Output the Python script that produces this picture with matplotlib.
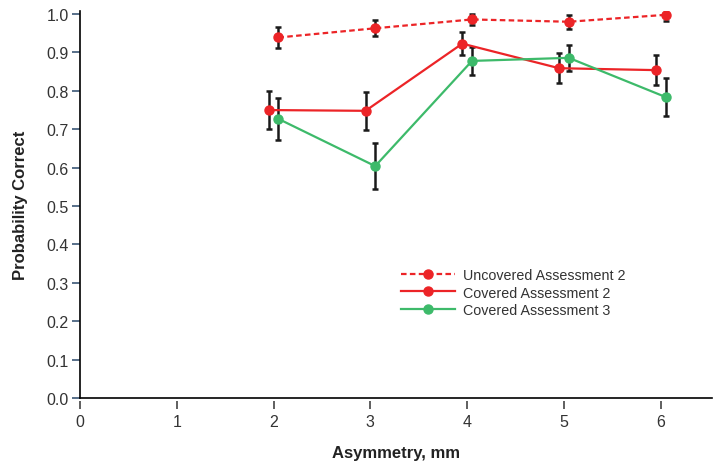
import matplotlib.pyplot as plt
from matplotlib.lines import Line2D

plt.rcParams['font.family'] = ['Liberation Sans', 'DejaVu Sans']

asym = [2, 3, 4, 5, 6]

uncovered_2 = [0.939, 0.963, 0.986, 0.980, 0.998]
uncovered_2_err = [0.028, 0.021, 0.015, 0.018, 0.016]

covered_2 = [0.750, 0.748, 0.923, 0.859, 0.854]
covered_2_err = [0.050, 0.050, 0.030, 0.039, 0.040]

covered_3 = [0.727, 0.604, 0.878, 0.886, 0.784]
covered_3_err = [0.054, 0.059, 0.037, 0.034, 0.049]

labels = ['Uncovered Assessment 2', 'Covered Assessment 2', 'Covered Assessment 3']

red = '#ec2427'
green = '#3dba6a'
dash = (0, (2.5, 1.5))

fig = plt.figure(figsize=(7.18, 4.64), dpi=100)
ax = fig.add_axes([80 / 718, 1 - 399 / 464, 632 / 718, 387 / 464])

err_kw = dict(ecolor='#1a1a1a', elinewidth=1.8, capsize=2.5, capthick=1.8, markersize=6.5)

ax.errorbar([x + 0.05 for x in asym], uncovered_2, yerr=uncovered_2_err, color=red, lw=1.6,
            ls=dash, marker='o', zorder=3, **err_kw)
ax.errorbar([x - 0.05 for x in asym], covered_2, yerr=covered_2_err, color=red, lw=1.6,
            marker='o', zorder=3, **err_kw)
ax.errorbar([x + 0.05 for x in asym], covered_3, yerr=covered_3_err, color=green, lw=1.6,
            marker='o', zorder=3, **err_kw)

ax.set_xlim(0, 6.53)
ax.set_ylim(0, 1.008)
for s in ['top', 'right']:
    ax.spines[s].set_visible(False)
ax.spines['left'].set_linewidth(1.2)
ax.spines['bottom'].set_linewidth(1.2)

ax.set_yticks([i / 10 for i in range(11)])
ax.set_yticklabels([f'{i / 10:.1f}' for i in range(11)])
ax.tick_params(axis='y', direction='out', length=6, width=1.2, color='#3b5675',
               labelsize=11.5, labelcolor='#333333', pad=2)

# x ticks detached slightly below the axis line
ax.set_xticks([])
sec = ax.secondary_xaxis(-0.008)
sec.spines['bottom'].set_visible(False)
sec.set_xticks(range(7))
sec.tick_params(axis='x', direction='out', length=6, width=1.2, color='#444444',
                labelsize=11.5, labelcolor='#333333', pad=3)

ax.set_xlabel('Asymmetry, mm', fontsize=12, fontweight='bold', color='#222222', labelpad=34)
ax.set_ylabel('Probability Correct', fontsize=12, fontweight='bold', color='#222222', labelpad=13)

handles = [
    Line2D([], [], color=red, lw=1.6, ls=dash, marker='o', markersize=6.5),
    Line2D([], [], color=red, lw=1.6, marker='o', markersize=6.5),
    Line2D([], [], color=green, lw=1.6, marker='o', markersize=6.5),
]
ax.legend(handles, labels, loc='upper left', bbox_to_anchor=(0.508, 0.335), frameon=False,
          fontsize=10.3, handlelength=3.8, labelspacing=0.22, handletextpad=0.55,
          borderpad=0, borderaxespad=0, labelcolor='#333333')

fig.savefig('out.png', dpi=100)
